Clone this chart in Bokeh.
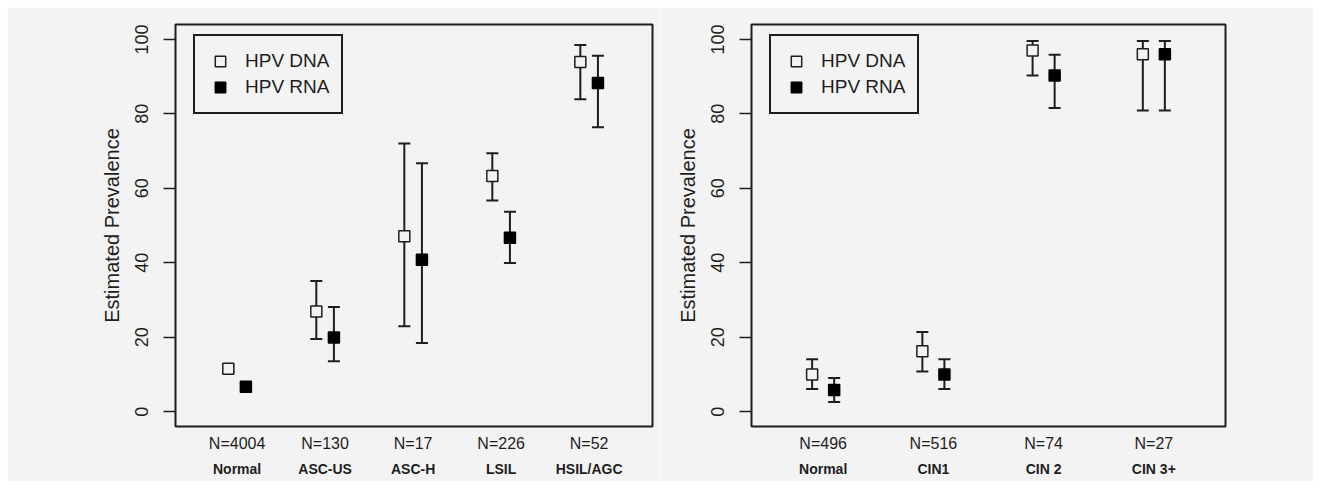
from bokeh.plotting import figure
from bokeh.models import (ColumnDataSource, Whisker, TeeHead, LinearAxis, FixedTicker,
                          Range1d, Legend, LegendItem)
from bokeh.layouts import row
from bokeh.embed import file_html
from bokeh.resources import INLINE

# ---------------- data ----------------
# Left panel: cytology
cyto_categories = ["Normal", "ASC-US", "ASC-H", "LSIL", "HSIL/AGC"]
cyto_n = ["N=4004", "N=130", "N=17", "N=226", "N=52"]
cyto_dna = [11.5, 26.9, 47.1, 63.3, 93.9]
cyto_dna_lo = [10.6, 19.5, 22.9, 56.7, 83.9]
cyto_dna_hi = [12.4, 35.1, 72.0, 69.4, 98.5]
cyto_rna = [6.7, 19.9, 40.8, 46.7, 88.3]
cyto_rna_lo = [6.0, 13.5, 18.4, 39.9, 76.4]
cyto_rna_hi = [7.4, 28.1, 66.7, 53.7, 95.6]

# Right panel: histology
histo_categories = ["Normal", "CIN1", "CIN 2", "CIN 3+"]
histo_n = ["N=496", "N=516", "N=74", "N=27"]
histo_dna = [10.0, 16.2, 97.0, 96.0]
histo_dna_lo = [6.1, 10.8, 90.3, 80.9]
histo_dna_hi = [14.1, 21.4, 99.6, 99.6]
histo_rna = [5.8, 10.0, 90.3, 96.0]
histo_rna_lo = [2.6, 6.1, 81.6, 80.9]
histo_rna_hi = [9.0, 14.1, 95.9, 99.6]

y_ticks = [0, 20, 40, 60, 80, 100]
series_labels = ["HPV DNA", "HPV RNA"]

BG = "#f3f3f3"
INK = "#1e1e1e"
FONT = "Liberation Sans"


def make_panel(categories, n_labels, dna, dna_lo, dna_hi, rna, rna_lo, rna_hi,
               width, mb_left, mb_right, x_start, x_end):
    n = len(categories)
    xs = [i + 1 for i in range(n)]
    p = figure(width=width, height=474, output_backend="svg", toolbar_location=None,
               x_range=Range1d(x_start, x_end), y_range=Range1d(-4, 104),
               x_axis_location=None, min_border_left=mb_left, min_border_right=mb_right,
               min_border_top=17, min_border_bottom=55,
               background_fill_color=BG, border_fill_color=BG)
    p.outline_line_color = INK
    p.outline_line_width = 2
    p.grid.visible = False

    # y axis
    ya = p.yaxis[0]
    ya.ticker = FixedTicker(ticks=y_ticks)
    ya.major_label_orientation = "vertical"
    ya.major_tick_out = 12
    ya.major_tick_in = 0
    ya.minor_tick_out = 0
    ya.minor_tick_in = 0
    ya.major_tick_line_color = INK
    ya.major_tick_line_width = 1.5
    ya.axis_line_color = None
    ya.major_label_text_font = FONT
    ya.major_label_text_font_size = "18px"
    ya.major_label_text_color = INK
    ya.major_label_standoff = 15
    ya.axis_label = "Estimated Prevalence"
    ya.axis_label_text_font = FONT
    ya.axis_label_text_font_size = "20px"
    ya.axis_label_text_font_style = "normal"
    ya.axis_label_text_color = INK
    ya.axis_label_standoff = 10

    # two x axes: N labels and category names
    ax_n = LinearAxis(ticker=FixedTicker(ticks=xs),
                      major_label_overrides={x: lab for x, lab in zip(xs, n_labels)},
                      major_tick_out=0, major_tick_in=0, minor_tick_out=0, minor_tick_in=0,
                      axis_line_color=None, major_label_text_font=FONT,
                      major_label_text_font_size="16px", major_label_text_color=INK,
                      major_label_standoff=8)
    ax_c = LinearAxis(ticker=FixedTicker(ticks=xs),
                      major_label_overrides={x: lab for x, lab in zip(xs, categories)},
                      major_tick_out=0, major_tick_in=0, minor_tick_out=0, minor_tick_in=0,
                      axis_line_color=None, major_label_text_font=FONT,
                      major_label_text_font_size="14px", major_label_text_font_style="bold",
                      major_label_text_color=INK, major_label_standoff=6)
    p.add_layout(ax_n, "below")
    p.add_layout(ax_c, "below")

    src_dna = ColumnDataSource(dict(x=[x - 0.1 for x in xs], y=dna, lo=dna_lo, hi=dna_hi))
    src_rna = ColumnDataSource(dict(x=[x + 0.1 for x in xs], y=rna, lo=rna_lo, hi=rna_hi))

    for src in (src_dna, src_rna):
        w = Whisker(source=src, base="x", lower="lo", upper="hi", dimension="height",
                    line_color=INK, line_width=2, level="underlay",
                    upper_head=TeeHead(size=12, line_color=INK, line_width=2),
                    lower_head=TeeHead(size=12, line_color=INK, line_width=2))
        p.add_layout(w)

    r_dna = p.scatter("x", "y", source=src_dna, marker="square", size=11,
                      fill_color=BG, line_color=INK, line_width=1.5)
    r_rna = p.scatter("x", "y", source=src_rna, marker="square", size=11,
                      fill_color="black", line_color="black", line_width=1.5)

    legend = Legend(items=[LegendItem(label=series_labels[0], renderers=[r_dna]),
                           LegendItem(label=series_labels[1], renderers=[r_rna])],
                    location=(18, 312), padding=12, spacing=0, margin=0,
                    glyph_width=26, glyph_height=26, label_standoff=12,
                    label_text_font=FONT, label_text_font_size="19px",
                    label_text_color=INK, border_line_color=INK, border_line_width=2,
                    border_line_alpha=1.0,
                    background_fill_color=BG, background_fill_alpha=1.0)
    p.add_layout(legend, "center")
    return p


left = make_panel(cyto_categories, cyto_n, cyto_dna, cyto_dna_lo, cyto_dna_hi,
                  cyto_rna, cyto_rna_lo, cyto_rna_hi,
                  width=653, mb_left=168, mb_right=8, x_start=0.3, x_end=5.72)
right = make_panel(histo_categories, histo_n, histo_dna, histo_dna_lo, histo_dna_hi,
                   histo_rna, histo_rna_lo, histo_rna_hi,
                   width=653, mb_left=91, mb_right=88, x_start=0.35, x_end=4.65)

layout = row(left, right, margin=(7, 0, 0, 7))
open("out.html", "w").write(file_html(layout, INLINE))
